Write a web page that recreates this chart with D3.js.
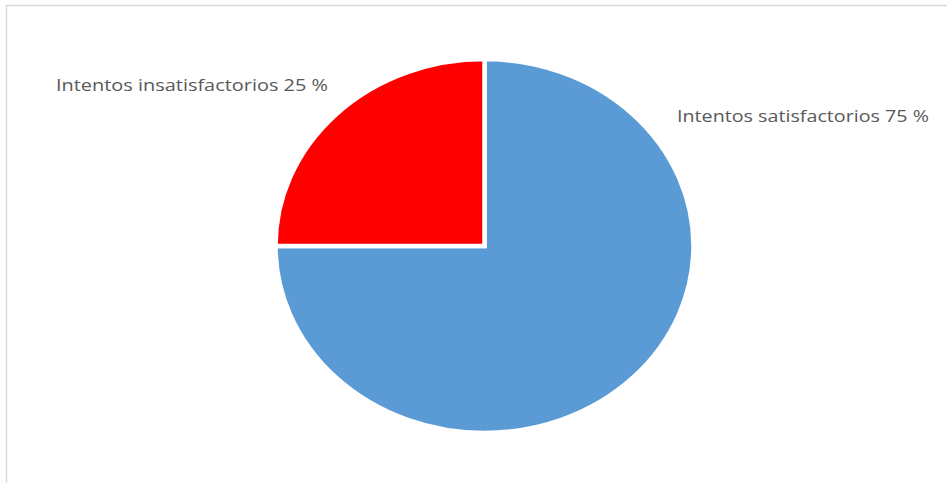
<!DOCTYPE html>
<html>
<head>
<meta charset="utf-8">
<script src="https://cdn.jsdelivr.net/npm/d3@7"></script>
<style>
html,body{margin:0;padding:0;background:#fff;}
svg{display:block;}
</style>
</head>
<body>
<svg id="chart" width="947" height="483"></svg>
<script>
const categories = ["Intentos satisfactorios", "Intentos insatisfactorios"];
const values = [75, 25];
const labels = ["Intentos satisfactorios 75 %", "Intentos insatisfactorios 25 %"];
const colors = ["#5B9BD5", "#FF0000"];

const W = 947, H = 483;
const svg = d3.select("#chart");

// frame
svg.append("rect").attr("x", 6.5).attr("y", 5.5).attr("width", 960).attr("height", 520)
  .attr("fill", "#fff").attr("stroke", "#d9d9d9").attr("stroke-width", 1.5);

const cx = 484.5, cy = 246, rx = 209, ry = 187;
const pie = d3.pie().sort(null).startAngle(0).endAngle(2 * Math.PI);
const arcs = pie(values);
const arc = d3.arc().innerRadius(0).outerRadius(ry);

const g = svg.append("g").attr("transform", `translate(${cx},${cy}) scale(${rx / ry},1)`);
g.selectAll("path").data(arcs).join("path")
  .attr("d", arc)
  .attr("fill", (d, i) => colors[i])
  .attr("stroke", "#fff")
  .attr("stroke-width", 4.5)
  .attr("stroke-linejoin", "miter")
  .attr("vector-effect", "non-scaling-stroke");

const labelPos = [{x: 677, y: 122, w: 252}, {x: 56, y: 91, w: 272}];
svg.selectAll("text.lbl").data(labels).join("text")
  .attr("class", "lbl")
  .attr("x", (d, i) => labelPos[i].x)
  .attr("y", (d, i) => labelPos[i].y)
  .attr("textLength", (d, i) => labelPos[i].w)
  .attr("lengthAdjust", "spacingAndGlyphs")
  .attr("font-family", "'Open Sans', 'Noto Sans', sans-serif")
  .attr("font-size", 17)
  .attr("fill", "#595959")
  .text(d => d);
</script>
</body>
</html>
